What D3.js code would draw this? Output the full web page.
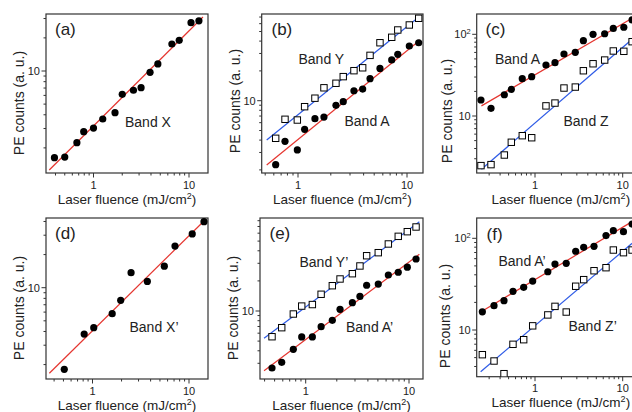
<!DOCTYPE html>
<html><head><meta charset="utf-8">
<script src="https://cdn.jsdelivr.net/npm/d3@7"></script>
<style>
body{margin:0;background:#fff}
text{font-family:Arial,"Liberation Sans",Helvetica,sans-serif;fill:#222}
</style>
</head><body>
<svg id="chart" width="632" height="412"></svg>
<script>
// ---------------- data ----------------
// (a) Band X
const aX = [0.39,0.50,0.67,0.79,1.0,1.25,1.68,2.0,2.62,3.15,3.91,4.72,6.62,7.9,10.5,12.7];
const aBandX = [1.63,1.65,2.23,2.81,3.03,3.66,4.18,6.14,6.68,7.05,9.73,11.6,17.6,19.0,27.5,28.6];
const aFitX = [0.344,14.0], aFitBandX = [1.26,31];
// (b) Band Y (open squares) and Band A (dots)
const bX = [0.624,0.76,0.986,1.15,1.43,1.73,2.23,2.60,3.26,3.92,4.58,5.65,7.24,8.23,10.5,12.8];
const bBandY = [4.17,6.49,6.38,8.70,10.6,13.5,15.0,17.5,20.1,21.5,28.7,38.5,43.7,51.8,58.2,68.0];
const bBandA = [2.26,3.89,3.18,5.14,6.58,6.84,8.99,9.77,12.6,13.1,16.7,21.2,25.8,29.4,35.7,38.5];
const bFitX = [0.516,13.2], bFitBandY = [4.01,71.7], bFitBandA = [2.24,41.0];
// (c) Band A (dots) and Band Z (squares)
const cX = [0.242,0.315,0.447,0.537,0.716,0.917,1.334,1.69,2.14,2.88,3.56,4.59,6.23,7.81,10.3,12.8];
const cBandA = [15.7,12.4,18.2,21.2,28.6,30.3,42.1,44.9,57.4,60.1,83.5,100,101.6,118,122,150];
const cBandZ = [2.47,2.54,3.33,4.77,5.74,5.42,13.3,14.4,22.0,22.6,35.8,43.6,48.4,62.5,61.9,81.2];
const cFitX = [0.245,12.8], cFitBandA = [13.3,157], cFitBandZ = [2.23,86.9];
// (d) Band X'
const dX = [0.51,0.82,1.03,1.60,1.96,2.51,3.70,5.55,7.16,10.8,14.3];
const dBandX = [1.81,3.79,4.33,5.80,7.68,13.7,11.4,15.7,23.9,30.8,39.8];
const dFitX = [0.357,14.3], dFitBandX = [1.67,40.4];
// (e) Band Y' (squares) and Band A' (dots)
const eX = [0.472,0.586,0.759,0.915,1.16,1.41,1.81,2.15,2.83,3.35,3.89,5.04,6.31,7.87,9.63,11.7];
const eBandY = [5.53,6.81,9.33,11.2,11.6,14.7,17.9,20.9,23.6,28.2,35.7,38.3,46.8,55.8,62.1,69.2];
const eBandA = [2.69,3.07,4.14,5.50,5.50,6.97,8.07,10.4,12.1,14.0,18.1,18.6,22.9,24.4,27.4,33.1];
const eFitX = [0.395,12.6], eFitBandY = [5.33,78.2], eFitBandA = [2.53,36.9];
// (f) Band A' (dots) and Band Z' (squares)
const fX = [0.251,0.341,0.443,0.561,0.743,0.941,1.40,1.69,2.27,2.91,3.59,4.71,6.45,7.82,10.2,12.8];
const fBandA = [15.8,18.4,20.9,26.4,29.2,34.2,43.2,52.4,53.4,72.2,79.8,81.8,107,121,118,143];
const fBandZ = [5.38,4.59,3.34,6.98,7.84,11.1,14.6,18.1,15.7,30.0,35.4,44.3,47.8,74.5,69.7,74.5];
const fFitXA = [0.251,12.8], fFitBandA = [16.1,152];
const fFitXZ = [0.240,12.8], fFitBandZ = [3.51,88.2];

const xTitle = "Laser fluence (mJ/cm";
const yTitle = "PE counts (a. u.)";

// ---------------- layout ----------------
const RED = "#e5352f", BLUE = "#2e5be6";
const panels = [
  {id:"(a)", box:[46,14,208,173], x1:93.5, xdec:95.5, y10:71, ydec:110, lab:[55,35], ytc:[24,103],
   series:[{x:aX,y:aBandX,sym:"dot"}],
   fits:[{x:aFitX,y:aFitBandX,c:RED}],
   bands:[{t:"Band X",x:125,y:127}]},
  {id:"(b)", box:[261.7,14,423,173], x1:298, xdec:109, y10:100.7, ydec:99, lab:[271.5,35], ytc:[240,101],
   series:[{x:bX,y:bBandY,sym:"sq"},{x:bX,y:bBandA,sym:"dot"}],
   fits:[{x:bFitX,y:bFitBandY,c:BLUE},{x:bFitX,y:bFitBandA,c:RED}],
   bands:[{t:"Band Y",x:298.5,y:64},{t:"Band A",x:344.5,y:126}]},
  {id:"(c)", box:[476.7,14,645,173], x1:535, xdec:87.7, y10:116, ydec:81.7, lab:[485.5,35], ytc:[452,111],
   series:[{x:cX,y:cBandZ,sym:"sq"},{x:cX,y:cBandA,sym:"dot"}],
   fits:[{x:cFitX,y:cFitBandA,c:RED},{x:cFitX,y:cFitBandZ,c:BLUE}],
   bands:[{t:"Band A",x:495,y:64},{t:"Band Z",x:563.5,y:126}]},
  {id:"(d)", box:[46,218,208,379], x1:92.5, xdec:96.5, y10:287.7, ydec:110, lab:[55,239], ytc:[24,308],
   series:[{x:dX,y:dBandX,sym:"dot"}],
   fits:[{x:dFitX,y:dFitBandX,c:RED}],
   bands:[{t:"Band X\u2019",x:129.5,y:332}]},
  {id:"(e)", box:[260,218,423,379], x1:305.7, xdec:103.3, y10:311, ydec:100, lab:[269.5,239], ytc:[238,308],
   series:[{x:eX,y:eBandY,sym:"sq"},{x:eX,y:eBandA,sym:"dot"}],
   fits:[{x:eFitX,y:eFitBandY,c:BLUE},{x:eFitX,y:eFitBandA,c:RED}],
   bands:[{t:"Band Y\u2019",x:299.5,y:267},{t:"Band A\u2019",x:346,y:332}]},
  {id:"(f)", box:[476.7,218,645,376.7], x1:535, xdec:87.7, y10:330, ydec:91.7, lab:[486.5,240], ytc:[450,316],
   series:[{x:fX,y:fBandZ,sym:"sq"},{x:fX,y:fBandA,sym:"dot"}],
   fits:[{x:fFitXA,y:fFitBandA,c:RED},{x:fFitXZ,y:fFitBandZ,c:BLUE}],
   bands:[{t:"Band A\u2019",x:498.5,y:266},{t:"Band Z\u2019",x:568.5,y:331}]}
];

const svg = d3.select("#chart");
const AX = "#333";

panels.forEach((p,i)=>{
  const [x0,y0,x1,y1] = p.box;
  const xd = [Math.pow(10,(x0-p.x1)/p.xdec), Math.pow(10,(x1-p.x1)/p.xdec)];
  const yd = [Math.pow(10,1-(y1-p.y10)/p.ydec), Math.pow(10,1+(p.y10-y0)/p.ydec)];
  const x = d3.scaleLog().domain(xd).range([x0,x1]);
  const y = d3.scaleLog().domain(yd).range([y1,y0]);
  const g = svg.append("g");
  const clipId = "clip"+i;
  g.append("clipPath").attr("id",clipId).append("rect")
    .attr("x",x0).attr("y",y0).attr("width",x1-x0).attr("height",y1-y0);

  // ticks
  const logTicks = dom => {
    const out=[];
    for(let e=-2;e<=3;e++) for(let m=1;m<=9;m++){
      const v=m*Math.pow(10,e);
      if(v>=dom[0]*1.0001 && v<=dom[1]/1.0001) out.push({v,major:m===1,e});
    }
    return out;
  };
  logTicks(xd).forEach(t=>{
    const px=x(t.v);
    g.append("line").attr("x1",px).attr("x2",px).attr("y1",y1).attr("y2",y1+(t.major?4.5:2.5))
      .attr("stroke",AX).attr("stroke-width",1);
    if(t.major) g.append("text").attr("x",px).attr("y",y1+15.5).attr("text-anchor","middle")
      .attr("font-size",11).text(t.v>=1?String(Math.round(t.v)):String(t.v));
  });
  logTicks(yd).forEach(t=>{
    const py=y(t.v);
    g.append("line").attr("x1",x0-(t.major?4.5:2.5)).attr("x2",x0).attr("y1",py).attr("y2",py)
      .attr("stroke",AX).attr("stroke-width",1);
    if(t.major){
      const tx=g.append("text").attr("x",x0-6).attr("y",py+4).attr("text-anchor","end").attr("font-size",11);
      if(t.e>=2){ tx.append("tspan").text("10"); tx.append("tspan").attr("font-size",7.5).attr("dy",-4).text(String(t.e)); }
      else tx.text(String(Math.round(t.v)));
    }
  });

  // frame
  g.append("rect").attr("x",x0).attr("y",y0).attr("width",x1-x0).attr("height",y1-y0)
    .attr("fill","none").attr("stroke",AX).attr("stroke-width",1.2);

  const plot = g.append("g").attr("clip-path",`url(#${clipId})`);
  // fit lines
  p.fits.forEach(f=>{
    plot.append("path").datum(f.x.map((xv,k)=>[xv,f.y[k]]))
      .attr("d",d3.line().x(d=>x(d[0])).y(d=>y(d[1])))
      .attr("stroke",f.c).attr("stroke-width",1.2).attr("fill","none");
  });
  // points
  p.series.forEach(s=>{
    const pts = s.x.map((xv,k)=>[xv,s.y[k]]);
    if(s.sym==="dot"){
      plot.selectAll(null).data(pts).enter().append("circle")
        .attr("cx",d=>x(d[0])).attr("cy",d=>y(d[1])).attr("r",3.6).attr("fill","#000");
    } else {
      plot.selectAll(null).data(pts).enter().append("rect")
        .attr("x",d=>x(d[0])-3.2).attr("y",d=>y(d[1])-3.2).attr("width",6.4).attr("height",6.4)
        .attr("fill","#fff").attr("stroke","#000").attr("stroke-width",1);
    }
  });

  // labels
  g.append("text").attr("x",p.lab[0]).attr("y",p.lab[1]).attr("font-size",17).text(p.id);
  p.bands.forEach(b=>g.append("text").attr("x",b.x).attr("y",b.y).attr("font-size",14).text(b.t));
  const xt = g.append("text").attr("x",(x0+Math.min(x1,632+13))/2).attr("y",y1+30.5)
    .attr("text-anchor","middle").attr("font-size",13.5);
  xt.append("tspan").text(xTitle);
  xt.append("tspan").attr("font-size",9).attr("dy",-5).text("2");
  xt.append("tspan").attr("dy",5).text(")");
  g.append("text").attr("transform",`translate(${p.ytc[0]},${p.ytc[1]}) rotate(-90)`)
    .attr("text-anchor","middle").attr("font-size",14).text(yTitle);
});
</script>
</body></html>
